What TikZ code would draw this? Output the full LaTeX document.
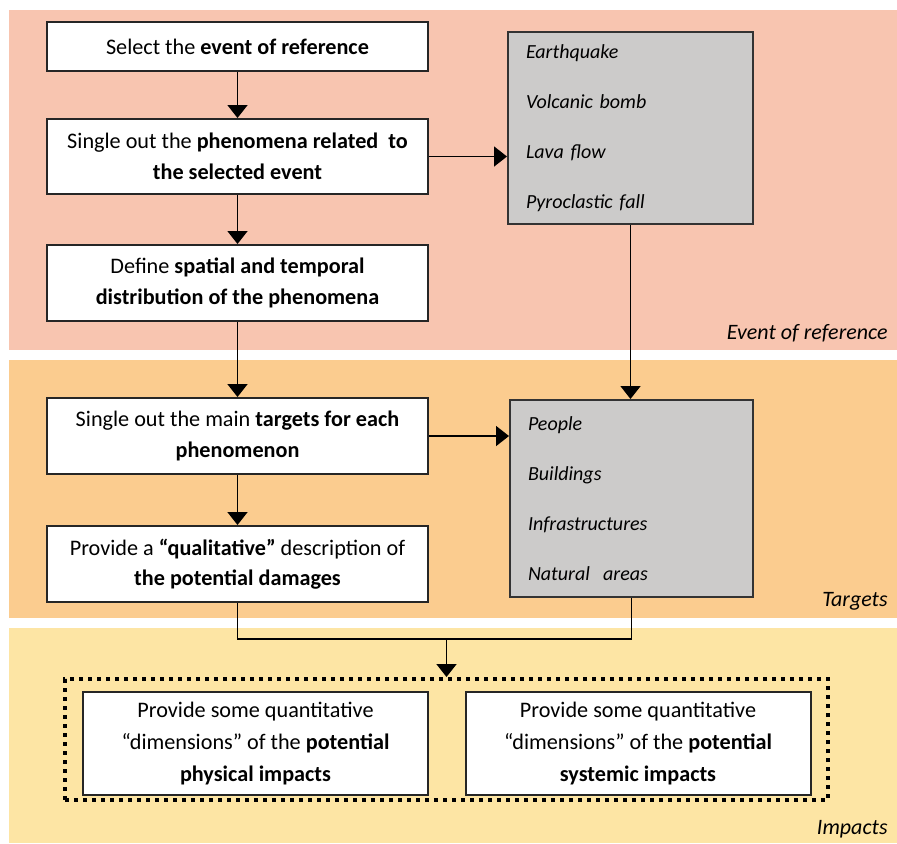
\documentclass[tikz,border=0pt]{standalone}
\usepackage{fontspec}
\setmainfont{Carlito}
\usetikzlibrary{arrows.meta,positioning}
\definecolor{bandE}{RGB}{248,197,176}
\definecolor{bandT}{RGB}{251,204,143}
\definecolor{bandI}{RGB}{253,229,164}
\definecolor{listG}{RGB}{204,203,202}

\begin{document}
\begin{tikzpicture}[
  x=0.5pt,y=-0.5pt,
  flowbox/.style={rectangle,draw=black!85,line width=1pt,fill=white,minimum width=190.5pt,
    inner sep=0pt,align=center,font=\fontsize{11.1}{15.3}\selectfont},
  listbox/.style={rectangle,draw=black!80,line width=1pt,fill=listG,inner xsep=9pt,inner ysep=0pt,
    text width=104.5pt,align=left,font=\itshape\fontsize{10}{25}\selectfont},
  impbox/.style={flowbox,minimum width=172.5pt,minimum height=51.5pt,font=\fontsize{11.1}{15.8}\selectfont},
  bandlbl/.style={anchor=east,inner sep=0pt,font=\itshape\fontsize{11}{13}\selectfont},
  arr/.style={-{Triangle[length=6.5pt,width=10pt]},line width=0.8pt},
  con/.style={line width=0.8pt}
]
  \useasboundingbox (0,0) rectangle (897,843);
  % ---------------- BANDS ----------------
  \fill[bandE] (9,10) rectangle (897,350);
  \fill[bandT] (9,360) rectangle (897,618);
  \fill[bandI] (9,628) rectangle (897,843);
  \node[bandlbl] (lblE) at (888,333) {Event of reference};
  \node[bandlbl] (lblT) at (888,601) {Targets};
  \node[bandlbl] (lblI) at (888,829) {Impacts};
  % ---------------- STEPS ----------------
  \node[flowbox,minimum height=24.5pt] (sel) at (237.5,46.5) {Select the \textbf{event of reference}};
  \node[flowbox,minimum height=37.5pt] (single) at (237.5,156.5)
    {Single out the \textbf{phenomena related~ to}\\ \textbf{the selected event}};
  \node[flowbox,minimum height=38pt] (define) at (237.5,283)
    {Define \textbf{spatial and temporal}\\ \textbf{distribution of the phenomena}};
  \node[flowbox,minimum height=38pt] (main) at (237.5,436)
    {Single out the main \textbf{targets for each}\\ \textbf{phenomenon}};
  \node[flowbox,minimum height=38pt] (qual) at (237.5,564)
    {Provide a \textbf{“qualitative”} description of\\ \textbf{the potential damages}};
  % ---------------- LISTS ----------------
  \node[listbox,minimum height=96pt] (phen) at (630.5,128)
    {Earthquake\\ Volcanic bomb\\ Lava flow\\ Pyroclastic fall};
  \node[listbox,minimum height=98.5pt,text width=103.5pt] (targ) at (631.5,498.5)
    {People\\ Buildings\\ Infrastructures\\ Natural~ areas};
  % ---------------- IMPACTS ----------------
  \node[draw,line width=2pt,dash pattern=on 2.2pt off 2.3pt,minimum width=381.5pt,
    minimum height=60.5pt,inner sep=0pt] (impgrp) at (446.5,739.5) {};
  \node[impbox] (phys) at (255.5,743.5)
    {Provide some quantitative\\ “dimensions” of the \textbf{potential}\\ \textbf{physical impacts}};
  \node[impbox] (sys) at (638,743.5)
    {Provide some quantitative\\ “dimensions” of the \textbf{potential}\\ \textbf{systemic impacts}};
  % ---------------- CONNECTORS ----------------
  \draw[arr] (sel) -- (single);
  \draw[arr] (single) -- (define);
  \draw[arr] (define) -- (main);
  \draw[arr] (main) -- (qual);
  \draw[arr] (single.east) -- (single.east -| phen.west);
  \draw[arr] (main.east) -- (main.east -| targ.west);
  \draw[arr] (phen.south) -- (phen.south |- targ.north);
  \coordinate (junc) at (446.5,639);
  \draw[con] (qual.south) |- (junc) -| (targ.south);
  \draw[arr] (junc) -- (impgrp.north);
\end{tikzpicture}
\end{document}
